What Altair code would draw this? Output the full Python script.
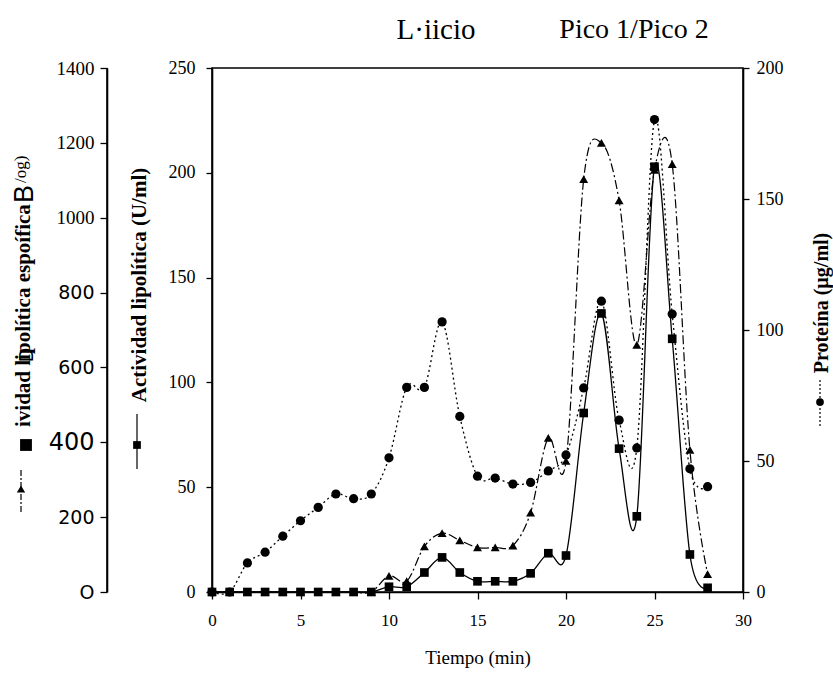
import altair as alt
import pandas as pd

# ---------------- data ----------------
tiempo = list(range(29))
actividad = [0, 0, 0, 0, 0, 0, 0, 0, 0, 0,
             2.5, 2.5, 9.3, 16.5, 9.3, 5.1, 5.1, 5.1, 8.9, 18.5,
             17.4, 85.4, 132.9, 68.4, 36.1, 202.9, 120.8, 17.9, 2.0]
especifica = [0, 0, 0, 0, 0, 0, 0, 0, 0, 0,
              43, 29, 122, 157, 138, 119, 119, 124, 212, 412,
              350, 1103, 1200, 1046, 660, 1128, 1143, 380, 48]
proteina = [0, 0, 11.1, 15.2, 21.3, 27.2, 32.3, 37.4, 35.6, 37.4,
            51.2, 78.1, 78.1, 103.1, 67.0, 44.2, 43.5, 41.2, 41.8, 46.2,
            52.3, 77.9, 111.0, 65.6, 55.0, 180.3, 106.1, 47.0, 40.2]

x_ticks = [0, 5, 10, 15, 20, 25, 30]
act_ticks = [0, 50, 100, 150, 200, 250]
esp_ticks = [0, 200, 400, 600, 800, 1000, 1200, 1400]
prot_ticks = [0, 50, 100, 150, 200]

titulo_1 = "L·iicio"
titulo_2 = "Pico 1/Pico 2"
x_title = "Tiempo  (min)"
act_title = "Actividad lipolítica (U/ml)"
esp_title = "ividad lipolítica espoífica"
esp_title_b = "B"
esp_title_c = "/og)"
prot_title = "Proteína (µg/ml)"

df = pd.DataFrame(dict(t=tiempo, act=actividad, esp=especifica, prot=proteina))

# ---------------- layout ----------------
OX, OY = 212, 68
W, H = 531, 524
OUTER_OFFSET = 105
SERIF = "Liberation Serif"
SANS = "DejaVu Sans"

common = dict(grid=False, labelColor="black", tickColor="black", tickWidth=1.3,
              domain=True, ticks=True,
              domainColor="black", domainWidth=1.6, labelFlush=False)

x_enc = alt.X("t:Q", scale=alt.Scale(domain=[0, 30], nice=False, zero=False),
              axis=alt.Axis(values=x_ticks, title=x_title, labelFont=SERIF, labelFontSize=17,
                            labelPadding=13, tickSize=7, titleFont=SERIF, titleFontSize=19,
                            titleFontWeight="normal", titleColor="black", titlePadding=20,
                            **common))

act_y = alt.Y("act:Q", title=None, scale=alt.Scale(domain=[0, 250], nice=False),
              axis=alt.Axis(values=act_ticks, orient="left", labelFont=SERIF, labelFontSize=18,
                            tickSize=6, labelPadding=11, **common))

esp_y = alt.Y("esp:Q", title=None, scale=alt.Scale(domain=[0, 1400], nice=False),
              axis=alt.Axis(values=esp_ticks, orient="left", offset=OUTER_OFFSET, tickSize=7,
                            labelPadding=6, format="d",
                            labelExpr="datum.value == 0 ? 'O' : datum.label",
                            labelFont={"condition": {"test": "datum.value >= 1000", "value": SERIF},
                                       "value": SANS},
                            labelFontSize={"condition": {"test": "datum.value == 400", "value": 24},
                                           "value": 19},
                            **common))

prot_y = alt.Y("prot:Q", title=None, scale=alt.Scale(domain=[0, 200], nice=False),
               axis=alt.Axis(values=prot_ticks, orient="right", labelFont=SERIF, labelFontSize=18,
                             tickSize=6, labelPadding=7, **common))

base = alt.Chart(df)

prot_layer = alt.layer(
    base.mark_line(interpolate="cardinal", color="black", strokeWidth=1.3, strokeDash=[2, 3])
        .encode(x=x_enc, y=prot_y),
    base.mark_point(shape="circle", filled=True, size=85, color="black", opacity=1)
        .encode(x=x_enc, y=prot_y),
)
esp_layer = alt.layer(
    base.mark_line(interpolate="cardinal", color="black", strokeWidth=1.2, strokeDash=[9, 3, 2, 3])
        .encode(x=x_enc, y=esp_y),
    base.mark_point(shape="triangle-up", filled=True, size=80, color="black", opacity=1)
        .encode(x=x_enc, y=esp_y),
)
act_layer = alt.layer(
    base.mark_line(interpolate="cardinal", color="black", strokeWidth=1.3)
        .encode(x=x_enc, y=act_y),
    base.mark_point(shape="square", filled=True, size=75, color="black", opacity=1)
        .encode(x=x_enc, y=act_y),
)

one = alt.Data(values=[{"a": 1}])


def txt(s, x, y, size, font=SERIF, weight="normal", angle=0, align="center"):
    return alt.Chart(one).mark_text(text=s, font=font, fontSize=size, fontWeight=weight,
                                    angle=angle, align=align, baseline="middle",
                                    color="black").encode(x=alt.value(x - OX), y=alt.value(y - OY))


def vrule(x, y1, y2, dash=None, width=1.2, color="black"):
    kw = dict(color=color, strokeWidth=width)
    if dash:
        kw["strokeDash"] = dash
    return alt.Chart(one).mark_rule(**kw).encode(
        x=alt.value(x - OX), y=alt.value(y1 - OY), y2=alt.value(y2 - OY))


def sym(shape, x, y, size):
    return alt.Chart(one).mark_point(shape=shape, filled=True, size=size, color="black",
                                     opacity=1).encode(x=alt.value(x - OX), y=alt.value(y - OY))


annotations = [
    txt(titulo_1, 436, 30, 29),
    txt(titulo_2, 634, 30, 28),
    # spine of the outer (specific-activity) axis
    vrule(OX - OUTER_OFFSET, OY, OY + H, width=1.6),
    # outer left (specific activity) title + key
    txt(esp_title, 24, 427, 21, weight="bold", angle=270, align="left"),
    txt(esp_title_b, 25, 203, 27, font="Liberation Sans", angle=270, align="left"),
    txt(esp_title_c, 21, 183, 17, angle=270, align="left"),
    txt("D", 27, 355, 20, font="Liberation Sans", angle=270),
    sym("square", 26, 445, 140),
    vrule(21, 470, 512, dash=[6, 2, 2, 2]),
    sym("triangle-up", 21, 489, 70),
    # inner left (activity) title + key
    txt(act_title, 140, 285, 21, weight="bold", angle=270),
    vrule(137, 414, 469),
    sym("square", 137, 445, 60),
    # right (protein) title + key
    txt(prot_title, 822, 303, 20, weight="bold", angle=270),
    vrule(820, 380, 427, dash=[2, 2]),
    sym("circle", 820, 402, 60),
]

chart = alt.layer(prot_layer, esp_layer, act_layer, *annotations).resolve_scale(
    y="independent"
).properties(
    width=W, height=H,
    padding={"left": OX, "top": OY, "right": 833 - OX - W, "bottom": 675 - OY - H},
    autosize=alt.AutoSizeParams(type="none"),
    background="white",
).configure_view(stroke="black", strokeWidth=1.6)

chart.save("out.html", embed_options={"renderer": "svg", "actions": False})
